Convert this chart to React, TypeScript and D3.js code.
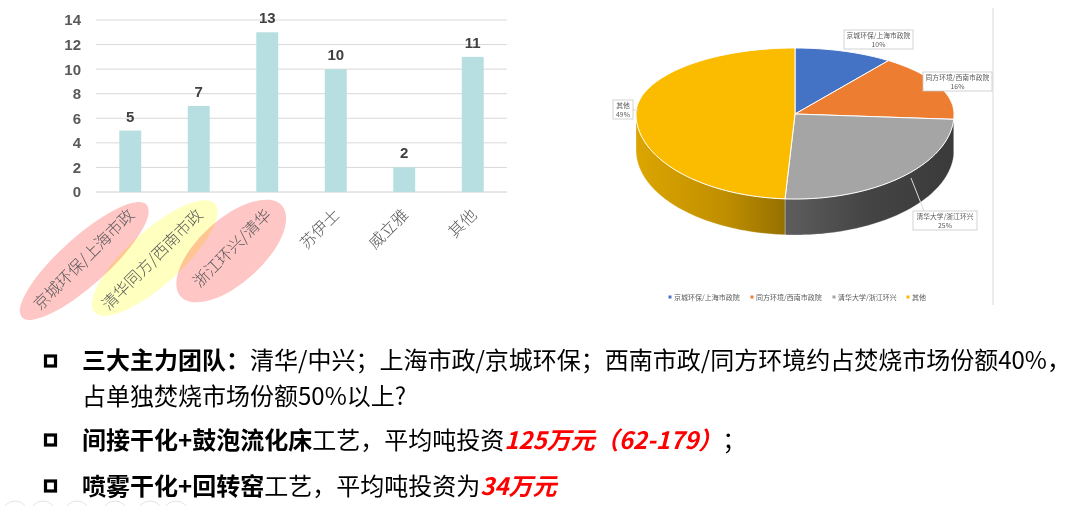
import React from "react";
import * as d3 from "d3";

// ---------- data ----------
const categories = ["京城环保/上海市政", "清华同方/西南市政", "浙江环兴/清华", "苏伊士", "威立雅", "其他"];
const barValues = [5, 7, 13, 10, 2, 11];
const yTicks = [0, 2, 4, 6, 8, 10, 12, 14];

const pieLabels = ["京城环保/上海市政院", "同方环境/西南市政院", "清华大学/浙江环兴", "其他"];
const pieValues = [10, 16, 25, 49];
const piePercentLabels = ["10%", "16%", "25%", "49%"];

const highlighted = [0, 1, 2];
const highlightColors = ["#ffc6c6", "#ffffbf", "#ffc6c6"];

// ---------- styles ----------
const CJK = "'Noto Sans CJK SC', 'Noto Sans', sans-serif";
const pieColors = ["#4472c4", "#ed7d31", "#a5a5a5", "#fbbc00"];

const W = 1080;
const H = 506;

function BarChart() {
  const x = d3.scaleBand<string>().domain(categories).range([96, 507]).paddingInner(0.68).paddingOuter(0.34);
  const y = d3.scaleLinear().domain([0, 14]).range([192, 20]);
  const ellipseGeom = [
    { dx: -46, dy: 50, a: 84, b: 24, rot: -42 },
    { dx: -44, dy: 47, a: 81, b: 27, rot: -42 },
    { dx: -36, dy: 40, a: 68, b: 32, rot: -42 },
  ];
  return (
    <g>
      {highlighted.map((idx, i) => {
        const cx = (x(categories[idx]) as number) + x.bandwidth() / 2 + ellipseGeom[i].dx;
        const cy = 211 + ellipseGeom[i].dy;
        return (
          <ellipse
            key={"e" + i}
            cx={0}
            cy={0}
            rx={ellipseGeom[i].a}
            ry={ellipseGeom[i].b}
            transform={`translate(${cx},${cy}) rotate(${ellipseGeom[i].rot})`}
            fill={highlightColors[i]}
            style={{ mixBlendMode: "multiply" }}
          />
        );
      })}
      {yTicks.map((t) => (
        <g key={"t" + t}>
          <line x1={96} x2={507} y1={y(t)} y2={y(t)} stroke={t === 0 ? "#d0d0d0" : "#d9d9d9"} strokeWidth={1} />
          <text
            x={81}
            y={y(t)}
            dy="0.36em"
            textAnchor="end"
            fontFamily="Arial, 'Liberation Sans', sans-serif"
            fontWeight="bold"
            fontSize={15}
            fill="#595959"
          >
            {t}
          </text>
        </g>
      ))}
      {categories.map((c, i) => {
        const bx = x(c) as number;
        return (
          <g key={"b" + i}>
            <rect x={bx} y={y(barValues[i])} width={x.bandwidth()} height={y(0) - y(barValues[i])} fill="#b7dfe1" />
            <text
              x={bx + x.bandwidth() / 2}
              y={y(barValues[i]) - 9}
              textAnchor="middle"
              fontFamily="Arial, 'Liberation Sans', sans-serif"
              fontWeight="bold"
              fontSize={15}
              fill="#404040"
            >
              {barValues[i]}
            </text>
            <text
              transform={`translate(${bx + x.bandwidth() / 2},211) rotate(-45)`}
              textAnchor="end"
              dominantBaseline="central"
              fontFamily={CJK}
              fontWeight={300}
              fontSize={16}
              fill="#595959"
            >
              {c}
            </text>
          </g>
        );
      })}
    </g>
  );
}

function PieChart() {
  const cx = 795;
  const cy = 114;
  const rx = 159;
  const ryT = 66;
  const ryB = 85;
  const depth = 36;
  const proj = (a: number, r = 1): [number, number] => {
    const c = Math.cos(a);
    return [cx + r * rx * Math.sin(a), cy - r * (c > 0 ? ryT : ryB) * c];
  };
  const arcs = d3.pie<number>().sort(null).value((d) => d)(pieValues);
  const sample = (a0: number, a1: number) => {
    const n = Math.max(2, Math.ceil(((a1 - a0) * 180) / Math.PI));
    return d3.range(n + 1).map((k) => a0 + ((a1 - a0) * k) / n);
  };
  const line = d3.line<[number, number]>();
  const tops = arcs.map((a) => {
    const pts: [number, number][] = [[cx, cy], ...sample(a.startAngle, a.endAngle).map((t) => proj(t))];
    return line(pts) + "Z";
  });
  const walls = arcs.map((a) => {
    const s = Math.max(a.startAngle, Math.PI / 2);
    const e = Math.min(a.endAngle, (3 * Math.PI) / 2);
    if (s >= e) return null;
    const topPts = sample(s, e).map((t) => proj(t));
    const botPts = topPts.slice().reverse().map(([px, py]) => [px, py + depth] as [number, number]);
    return line([...topPts, ...botPts]) + "Z";
  });
  const wallFills = ["#2f4f8a", "url(#gOrange)", "url(#gGray)", "url(#gYellow)"];

  const boxes = [
    { x: 844, y: 30, w: 69, h: 19 },
    { x: 923, y: 72, w: 69, h: 19 },
    { x: 913, y: 211, w: 64, h: 19 },
    { x: 613, y: 100, w: 20, h: 19 },
  ];
  const legendX = [670, 752, 834, 908];

  return (
    <g>
      <defs>
        <linearGradient id="gYellow" gradientUnits="userSpaceOnUse" x1={636} x2={783} y1={0} y2={0}>
          <stop offset="0" stopColor="#dca500" />
          <stop offset="0.6" stopColor="#c08f00" />
          <stop offset="1" stopColor="#977100" />
        </linearGradient>
        <linearGradient id="gGray" gradientUnits="userSpaceOnUse" x1={783} x2={954} y1={0} y2={0}>
          <stop offset="0" stopColor="#5e5e5e" />
          <stop offset="0.5" stopColor="#444444" />
          <stop offset="1" stopColor="#3a3a3a" />
        </linearGradient>
        <linearGradient id="gOrange" gradientUnits="userSpaceOnUse" x1={940} x2={954} y1={0} y2={0}>
          <stop offset="0" stopColor="#b35a1f" />
          <stop offset="1" stopColor="#9a4c18" />
        </linearGradient>
      </defs>
      <line x1={993} x2={993} y1={8} y2={305} stroke="#d9d9d9" strokeWidth={1} />
      {walls.map((p, i) => (p ? <path key={"w" + i} d={p} fill={wallFills[i]} stroke="#ffffff" strokeWidth={0.6} strokeOpacity={0.5} /> : null))}
      {tops.map((p, i) => (
        <path key={"p" + i} d={p} fill={pieColors[i]} stroke="#ffffff" strokeWidth={1} />
      ))}
      {/* leader lines */}
      <line x1={911} y1={178} x2={924} y2={211} stroke="#d9d9d9" strokeWidth={1} />
      <line x1={633} y1={110} x2={638} y2={110} stroke="#d9d9d9" strokeWidth={1} />
      {pieLabels.map((lab, i) => {
        const b = boxes[i];
        return (
          <g key={"l" + i}>
            <rect x={b.x} y={b.y} width={b.w} height={b.h} fill="#ffffff" stroke="#c8c8c8" strokeWidth={0.8} />
            <text x={b.x + b.w / 2} y={b.y + 8} textAnchor="middle" fontFamily={CJK} fontSize={6.8} fill="#595959">
              {lab}
            </text>
            <text x={b.x + b.w / 2} y={b.y + 16.5} textAnchor="middle" fontFamily={CJK} fontSize={6.8} fill="#595959">
              {piePercentLabels[i]}
            </text>
          </g>
        );
      })}
      {pieLabels.map((lab, i) => (
        <g key={"lg" + i}>
          <rect x={legendX[i] - 1.5} y={295.5} width={3} height={3} fill={pieColors[i]} />
          <text x={legendX[i] + 4} y={299.5} fontFamily={CJK} fontSize={7} fill="#595959">
            {lab}
          </text>
        </g>
      ))}
    </g>
  );
}

function Bullet({ y }: { y: number }) {
  return <rect x={45.5} y={y - 5} width={10} height={10} fill="none" stroke="#000" strokeWidth={3.2} />;
}

function BottomText() {
  const fs = 24;
  const circleX = [15, 43, 77, 115, 150, 176];
  return (
    <g fontFamily={CJK} fontSize={fs} fill="#000">
      {circleX.map((cx, i) => (
        <circle key={"c" + i} cx={cx} cy={514} r={13} fill="none" stroke="#e4e4e4" strokeWidth={1} />
      ))}
      <Bullet y={361} />
      <text x={82} y={369}>
        <tspan fontWeight="bold">三大主力团队：</tspan>
        <tspan>清华/中兴；上海市政/京城环保；西南市政/同方环境约占焚烧市场份额40%，</tspan>
      </text>
      <text x={82} y={405}>
        占单独焚烧市场份额50%以上?
      </text>
      <Bullet y={440} />
      <text x={82} y={449}>
        <tspan fontWeight="bold">间接干化+鼓泡流化床</tspan>
        <tspan>工艺，平均吨投资</tspan>
        <tspan fontWeight="bold" fontStyle="italic" fill="#ff0000">125万元（62-179）</tspan>
        <tspan>；</tspan>
      </text>
      <Bullet y={486} />
      <text x={82} y={495}>
        <tspan fontWeight="bold">喷雾干化+回转窑</tspan>
        <tspan>工艺，平均吨投资为</tspan>
        <tspan fontWeight="bold" fontStyle="italic" fill="#ff0000">34万元</tspan>
      </text>
    </g>
  );
}

export default function App() {
  return (
    <svg
      width={W}
      height={H}
      viewBox={`0 0 ${W} ${H}`}
      style={{ position: "fixed", left: 0, top: 0, background: "#ffffff", display: "block" }}
    >
      <rect x={0} y={0} width={W} height={H} fill="#ffffff" />
      <BarChart />
      <PieChart />
      <BottomText />
    </svg>
  );
}
